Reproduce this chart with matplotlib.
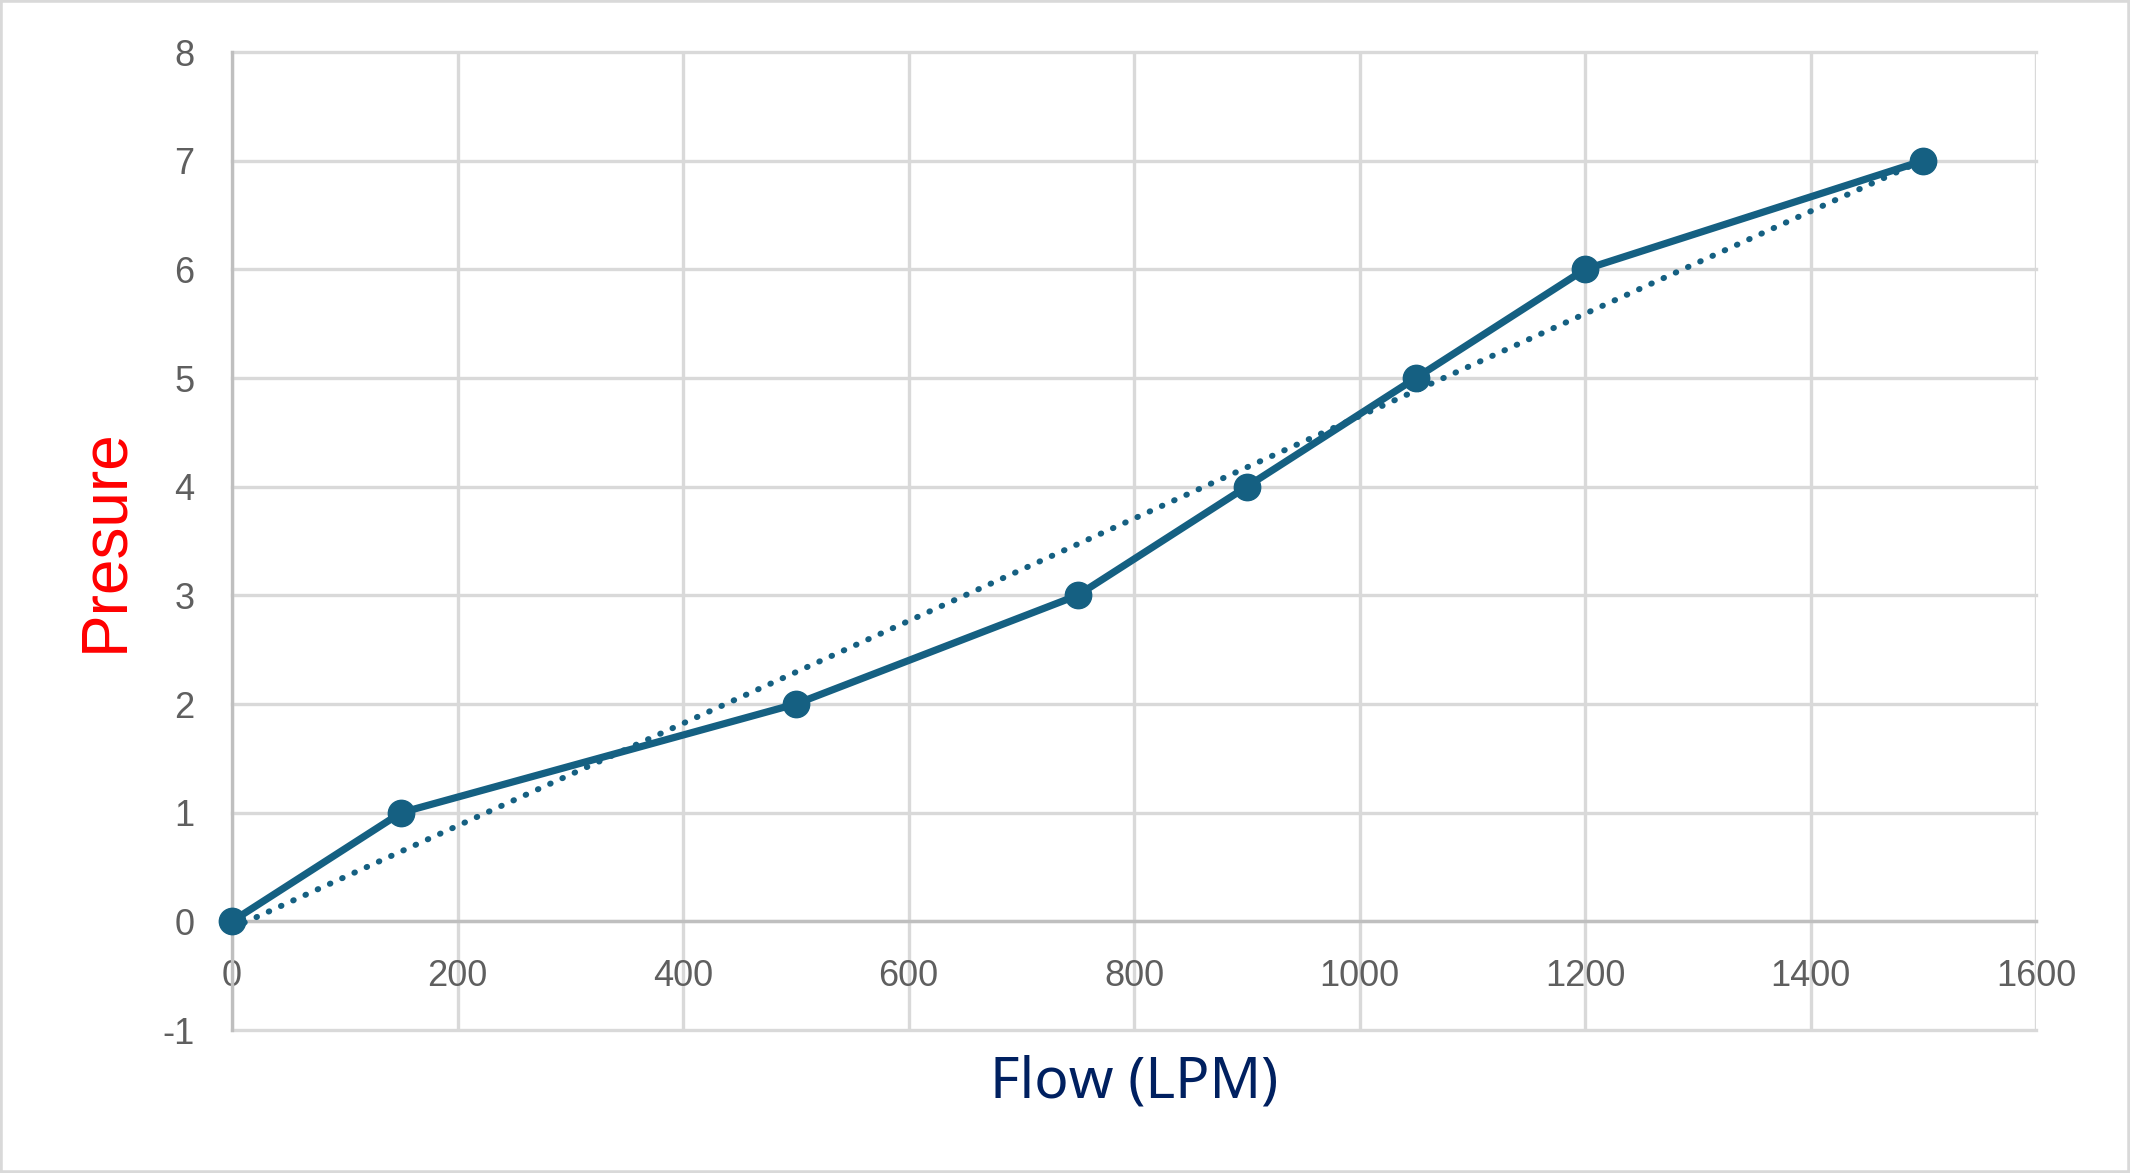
import numpy as np
import matplotlib.pyplot as plt
from matplotlib.patches import Rectangle

# data
flow = [0, 150, 500, 750, 900, 1050, 1200, 1500]
pressure = [0, 1, 2, 3, 4, 5, 6, 7]
x_ticks = [0, 200, 400, 600, 800, 1000, 1200, 1400, 1600]
y_ticks = [-1, 0, 1, 2, 3, 4, 5, 6, 7, 8]

line_col = '#156082'
grid_col = '#d9d9d9'
axis_col = '#bfbfbf'

plt.rcParams['axes.unicode_minus'] = False
plt.rcParams['font.family'] = ['Liberation Sans', 'DejaVu Sans']

W, H = 2130, 1173
fig = plt.figure(figsize=(W / 100, H / 100), dpi=100)
# plot area in pixels: left 232, right 2036, top 52, bottom 1030
ax = fig.add_axes([232 / W, 1 - 1030 / H, (2036 - 232) / W, (1030 - 52) / H])

ax.plot(flow, pressure, color=line_col, lw=5.2, marker='o', ms=19,
        zorder=3, clip_on=False)

# linear trendline, as excel draws it over the data range
slope, icpt = np.polyfit(flow, pressure, 1)
tx = np.array([min(flow), max(flow)])
ax.plot(tx, slope * tx + icpt, color=line_col, lw=4.3,
        linestyle=(0, (0.1, 2.15)), dash_capstyle='round', zorder=4,
        clip_on=False)

ax.set_xlim(0, 1600)
ax.set_ylim(-1, 8)
ax.set_xticks(x_ticks)
ax.set_yticks(y_ticks)
ax.grid(True, color=grid_col, lw=2.4, zorder=0)
ax.set_axisbelow(True)
for gl in ax.get_xgridlines() + ax.get_ygridlines():
    gl.set_clip_on(False)

ax.spines['top'].set_visible(False)
ax.spines['right'].set_visible(False)
ax.spines['left'].set_color(axis_col)
ax.spines['left'].set_linewidth(2.4)
ax.spines['bottom'].set_position(('data', 0))
ax.spines['bottom'].set_color(axis_col)
ax.spines['bottom'].set_linewidth(2.4)
ax.tick_params(length=0, pad=27, labelsize=26, labelcolor='#5f5f5f')

fig.text(1134 / W, 1 - 1097 / H, 'Flow (LPM)', color='#002060',
         fontsize=41, ha='center', va='baseline', family=['Noto Sans', 'DejaVu Sans'])
fig.text(122 / W, 1 - 540 / H, 'Presure', color='#ff0000', fontsize=46,
         rotation=90, rotation_mode='anchor', ha='center', va='baseline')

# light border round the whole chart
fig.patches.append(Rectangle((0, 0), 1, 1, transform=fig.transFigure,
                             fill=False, edgecolor=grid_col, lw=4))

fig.savefig('out.png', dpi=100)
